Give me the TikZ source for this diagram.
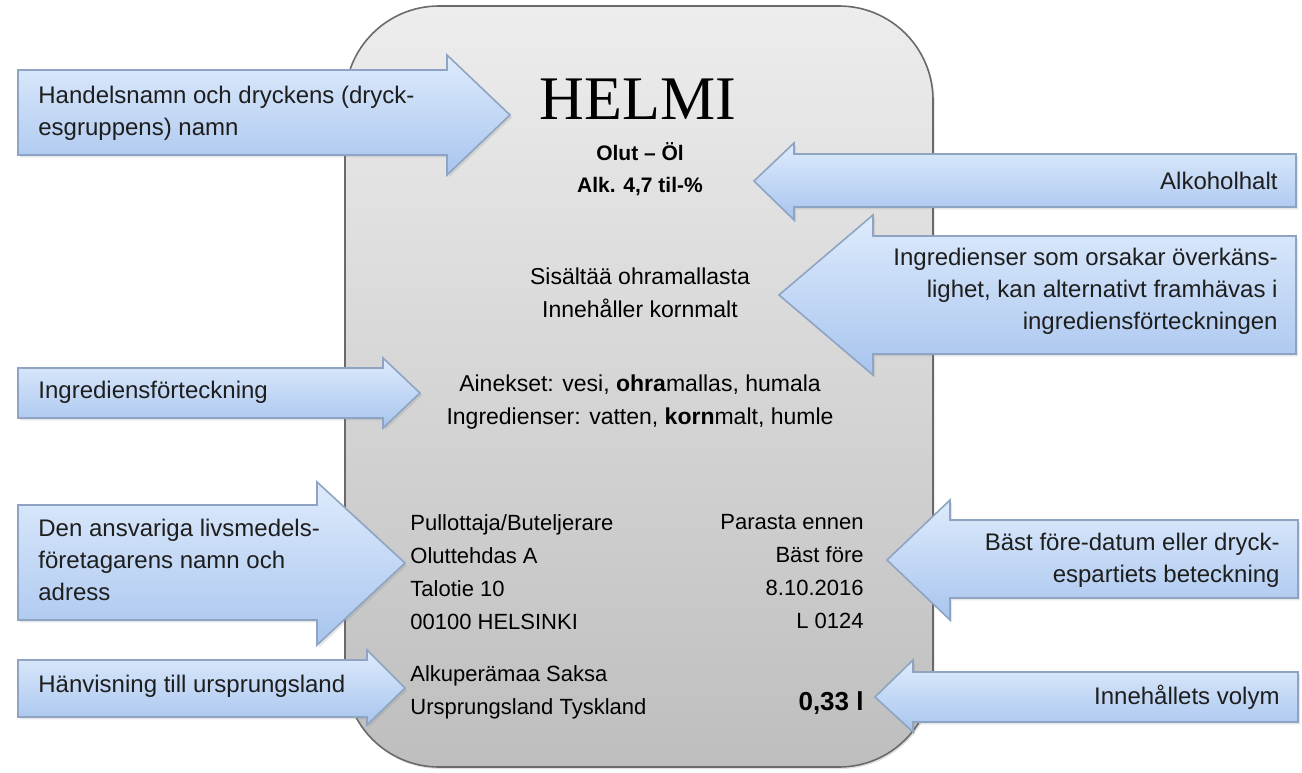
\documentclass[tikz,border=0pt]{standalone}
\usepackage{fontspec}
\setmainfont{Liberation Sans}
\newfontfamily\brandfont{Liberation Serif}
\usepackage{tikz}
\usetikzlibrary{shadows,positioning}
\definecolor{labtop}{HTML}{EDEDED}
\definecolor{labbot}{HTML}{BEBEBE}
\definecolor{labedge}{HTML}{6A6A6A}
\definecolor{arrtop}{HTML}{DEEBFC}
\definecolor{arrbot}{HTML}{A8C5EE}
\definecolor{arredge}{HTML}{8EA4C2}
\definecolor{ink}{HTML}{1E1E1E}
\tikzset{
  labelbox/.style={draw=labedge, line width=0.8pt, rounded corners=47pt, top color=labtop, bottom color=labbot,
    drop shadow={shadow xshift=0.8pt, shadow yshift=-1pt, opacity=0.25}},
  callout/.style={draw=arredge, line width=0.8pt, top color=arrtop, bottom color=arrbot,
    drop shadow={shadow xshift=1pt, shadow yshift=-1.2pt, opacity=0.2}},
  note/.style={text=ink, font=\fontsize{12}{16}\selectfont, inner sep=0pt},
  noteL/.style={note, align=left, anchor=west},
  noteR/.style={note, align=right, anchor=east},
  brand/.style={text=black, font=\brandfont\fontsize{31}{31}\selectfont, inner sep=0pt},
  head/.style={text=black, font=\bfseries\fontsize{10.5}{16}\selectfont, align=center, inner sep=0pt},
  body/.style={text=black, font=\fontsize{11.5}{16.5}\selectfont, align=center, inner sep=0pt},
  colL/.style={text=black, font=\fontsize{11}{16.5}\selectfont, align=left, anchor=west, inner sep=0pt},
  colR/.style={text=black, font=\fontsize{11}{16.5}\selectfont, align=right, anchor=east, inner sep=0pt},
}
\begin{document}
\begin{tikzpicture}[x=0.5pt, y=-0.5pt]
\useasboundingbox (0,0) rectangle (1302,772);
% the label
\draw[labelbox] (345,6) rectangle (933,767);
% arrows from the left
\draw[callout] (18,70) -- (447,70) -- (447,55) -- (510,115) -- (447,175) -- (447,155) -- (18,155) -- cycle;
\draw[callout] (18,368) -- (383,368) -- (383,358) -- (420,393) -- (383,428) -- (383,418) -- (18,418) -- cycle;
\draw[callout] (18,505) -- (317,505) -- (317,482) -- (405,563) -- (317,645) -- (317,620) -- (18,620) -- cycle;
\draw[callout] (18,660) -- (367,660) -- (367,650) -- (405,688) -- (367,725) -- (367,717) -- (18,717) -- cycle;
% arrows from the right
\draw[callout] (1296,154) -- (794,154) -- (794,143) -- (754,181) -- (794,220) -- (794,207) -- (1296,207) -- cycle;
\draw[callout] (1296,236) -- (873,236) -- (873,215) -- (779,295) -- (873,375) -- (873,354) -- (1296,354) -- cycle;
\draw[callout] (1298,520) -- (950,520) -- (950,500) -- (887,560) -- (950,620) -- (950,598) -- (1298,598) -- cycle;
\draw[callout] (1298,672) -- (913,672) -- (913,660) -- (875,697) -- (913,732) -- (913,722) -- (1298,722) -- cycle;
% texts of the arrows
\node[noteL] (trade) at (38,113) {Handelsnamn och dryckens (dryck-\\esgruppens) namn};
\node[noteL] (ingr) at (38,392) {Ingrediensförteckning};
\node[noteL] (operator) at (38,560) {Den ansvariga livsmedels-\\företagarens namn och\\adress};
\node[noteL] (origin) at (38,686) {Hänvisning till ursprungsland};
\node[noteR] (alc) at (1278,181) {Alkoholhalt};
\node[noteR] (allergen) at (1278,291) {Ingredienser som orsakar överkäns-\\lighet, kan alternativt framhävas i\\ingrediensförteckningen};
\node[noteR] (bestbefore) at (1280,560) {Bäst före-datum eller dryck-\\espartiets beteckning};
\node[noteR] (volume) at (1280,697) {Innehållets volym};
% texts on the label
\node[brand] (helmi) at (638,99) {HELMI};
\node[head] (kind) at (640,169) {Olut – Öl\\Alk. 4,7 til-\%};
\node[body] (allergy) at (640,293) {Sisältää ohramallasta\\Innehåller kornmalt};
\node[body] (ingred) at (640,402) {Ainekset: vesi, \textbf{ohra}mallas, humala\\Ingredienser: vatten, \textbf{korn}malt, humle};
\node[colL] (bottler) at (410,572) {Pullottaja/Buteljerare\\Oluttehdas A\\Talotie 10\\00100 HELSINKI};
\node[colR] (date) at (864,572) {Parasta ennen\\Bäst före\\8.10.2016\\L 0124};
\node[colL] (country) at (410,692) {Alkuperämaa Saksa\\Ursprungsland Tyskland};
\node[text=black, font=\bfseries\fontsize{13}{16}\selectfont, anchor=east, inner sep=0pt] (vol) at (864,703) {0,33 l};
\end{tikzpicture}
\end{document}
